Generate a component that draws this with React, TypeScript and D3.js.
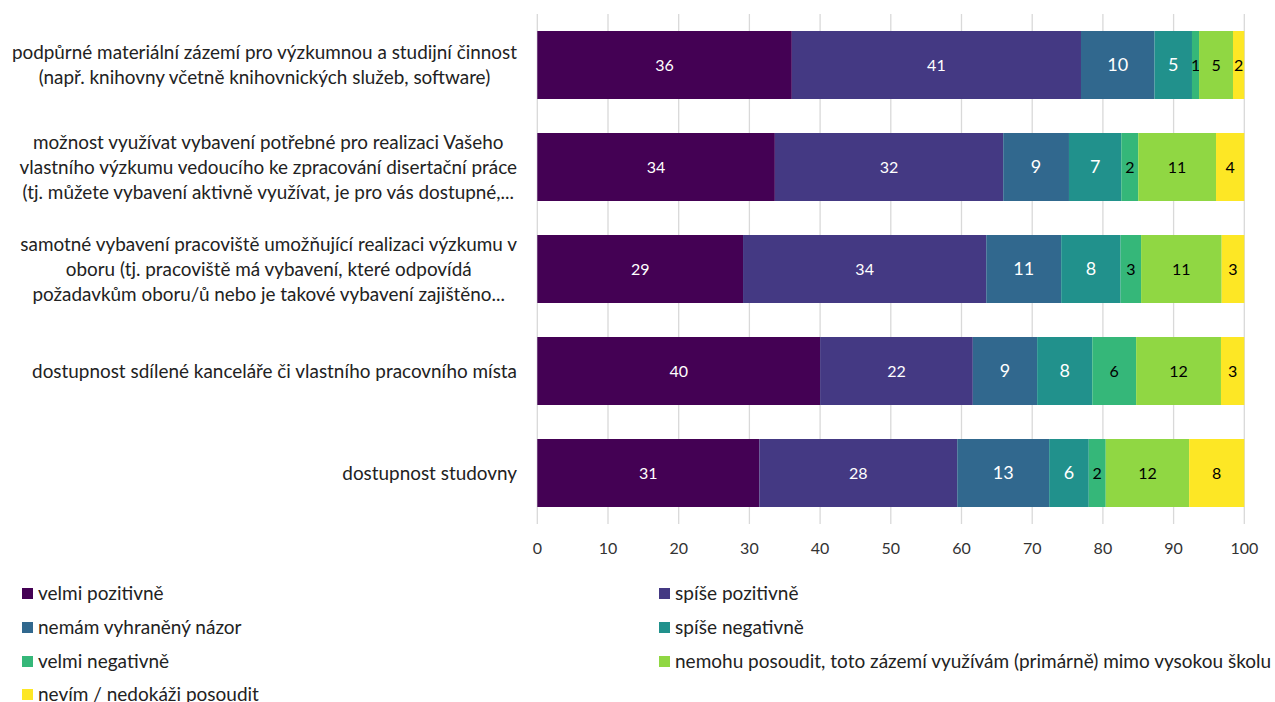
import React, { useEffect, useRef } from "react";
import * as d3 from "d3";

const categories: string[][] = [
  ["podpůrné materiální zázemí pro výzkumnou a studijní činnost", "(např. knihovny včetně knihovnických služeb, software)"],
  ["možnost využívat vybavení potřebné pro realizaci Vašeho", "vlastního výzkumu vedoucího ke zpracování disertační práce", "(tj. můžete vybavení aktivně využívat, je pro vás dostupné,..."],
  ["samotné vybavení pracoviště umožňující realizaci výzkumu v", "oboru (tj. pracoviště má vybavení, které odpovídá", "požadavkům oboru/ů nebo je takové vybavení zajištěno..."],
  ["dostupnost sdílené kanceláře či vlastního pracovního místa"],
  ["dostupnost studovny"],
];

const seriesNames = [
  "velmi pozitivně",
  "spíše pozitivně",
  "nemám vyhraněný názor",
  "spíše negativně",
  "velmi negativně",
  "nemohu posoudit, toto zázemí využívám (primárně) mimo vysokou školu",
  "nevím / nedokáži posoudit",
];

const colors = ["#440154", "#443983", "#31688e", "#21918c", "#35b779", "#90d743", "#fde725"];
const labelColors = ["#ffffff", "#ffffff", "#ffffff", "#ffffff", "#000000", "#000000", "#000000"];

// values per category, in series order
const row1 = [36.0, 40.9, 10.4, 5.3, 1.0, 4.8, 1.6];
const row2 = [33.6, 32.3, 9.3, 7.4, 2.4, 11.0, 4.0];
const row3 = [29.1, 34.4, 10.6, 8.4, 2.9, 11.4, 3.2];
const row4 = [40.0, 21.6, 9.1, 7.8, 6.2, 12.0, 3.3];
const row5 = [31.4, 28.0, 13.0, 5.6, 2.4, 11.8, 7.8];
const values = [row1, row2, row3, row4, row5];

const xTicks = [0, 10, 20, 30, 40, 50, 60, 70, 80, 90, 100];

const FONT = "Lato, 'Noto Sans', sans-serif";

export default function App() {
  const ref = useRef<SVGSVGElement | null>(null);

  useEffect(() => {
    const svg = d3.select(ref.current);
    svg.selectAll("*").remove();

    const left = 537.3;
    const right = 1244.3;
    const top = 14;
    const bottom = 524 - 10;

    const x = d3.scaleLinear().domain([0, 100]).range([left, right]);
    const y = d3
      .scaleBand<number>()
      .domain(d3.range(categories.length))
      .range([top, top + 102 * 5])
      .paddingInner(1 / 3)
      .paddingOuter(1 / 6);

    // gridlines
    svg
      .append("g")
      .selectAll("line")
      .data(xTicks)
      .join("line")
      .attr("x1", (d) => x(d))
      .attr("x2", (d) => x(d))
      .attr("y1", top)
      .attr("y2", bottom + 10)
      .attr("stroke", "#d9d9d9")
      .attr("stroke-width", 1.3);

    // x tick labels
    svg
      .append("g")
      .selectAll("text")
      .data(xTicks)
      .join("text")
      .attr("x", (d) => x(d))
      .attr("y", 554)
      .attr("text-anchor", "middle")
      .attr("font-family", FONT)
      .attr("font-size", 16)
      .attr("fill", "#333")
      .text((d) => String(d));

    // bars
    values.forEach((row, ci) => {
      let acc = 0;
      const g = svg.append("g");
      row.forEach((v, si) => {
        const x0 = x(acc);
        const x1 = x(acc + v);
        acc += v;
        g.append("rect")
          .attr("x", x0)
          .attr("y", y(ci)!)
          .attr("width", x1 - x0)
          .attr("height", y.bandwidth())
          .attr("fill", colors[si]);
        g.append("text")
          .attr("x", (x0 + x1) / 2)
          .attr("y", y(ci)! + y.bandwidth() / 2)
          .attr("dy", "0.35em")
          .attr("text-anchor", "middle")
          .attr("font-family", FONT)
          .attr("font-size", si >= 2 && si <= 3 ? 18 : 16)
          .attr("fill", labelColors[si])
          .text(String(Math.round(v)));
      });
    });

    // category labels
    const labelRight = 517;
    const lineH = 25;
    categories.forEach((lines, ci) => {
      const cy = y(ci)! + y.bandwidth() / 2;
      const g = svg.append("g");
      const texts = lines.map((ln, li) =>
        g
          .append("text")
          .attr("y", cy + (li - (lines.length - 1) / 2) * lineH)
          .attr("dy", "0.35em")
          .attr("font-family", FONT)
          .attr("font-size", 18.9)
          .attr("fill", "#222")
          .attr("text-anchor", "middle")
          .text(ln)
      );
      const widths = texts.map((t) => (t.node() as SVGTextElement).getComputedTextLength());
      const maxW = d3.max(widths) || 0;
      const cx = labelRight - maxW / 2;
      texts.forEach((t) => t.attr("x", cx));
    });

    // legend
    const legX = [22, 659];
    const legY = [593, 627, 661, 694];
    seriesNames.forEach((name, i) => {
      const col = i % 2;
      const rowI = Math.floor(i / 2);
      const g = svg.append("g");
      g.append("rect")
        .attr("x", legX[col])
        .attr("y", legY[rowI] - 5)
        .attr("width", 11)
        .attr("height", 11)
        .attr("fill", colors[i]);
      g.append("text")
        .attr("x", legX[col] + 16)
        .attr("y", legY[rowI])
        .attr("dy", "0.35em")
        .attr("font-family", FONT)
        .attr("font-size", 19)
        .attr("fill", "#222")
        .text(name);
    });
  }, []);

  return (
    <svg
      ref={ref}
      width={1275}
      height={702}
      style={{ position: "absolute", left: 0, top: 0, background: "#fff" }}
    />
  );
}
